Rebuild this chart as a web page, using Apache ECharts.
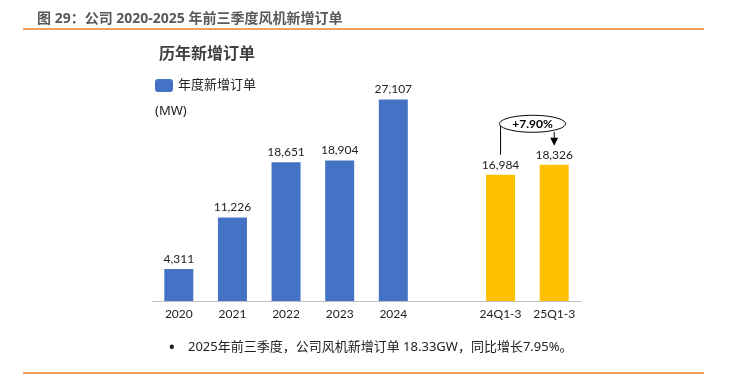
<!DOCTYPE html>
<html>
<head>
<meta charset="utf-8">
<script src="https://cdn.jsdelivr.net/npm/echarts@6/dist/echarts.min.js"></script>
<style>
  html, body { margin: 0; padding: 0; background: #fff; }
  #chart { width: 732px; height: 377px; }
</style>
</head>
<body>
<div id="chart"></div>
<script>
// 数据
const categories = ['2020', '2021', '2022', '2023', '2024', '', '24Q1-3', '25Q1-3']
const annualOrders = [4311, 11226, 18651, 18904, 27107, '-', '-', '-']
const ytdOrders = ['-', '-', '-', '-', '-', '-', 16984, 18326]
const growthText = '+7.90%'

const FONT = '"Noto Sans", "Noto Sans CJK SC", sans-serif'
const NUM_FONT = 'Lato, "Noto Sans", sans-serif'

const chart = echarts.init(document.getElementById('chart'), null, { renderer: 'canvas' })

const labelStyle = {
  show: true,
  position: 'top',
  distance: 4,
  color: '#222',
  fontSize: 12,
  fontFamily: NUM_FONT,
  formatter: p => p.value.toLocaleString('en-US')
}

const options = {
  animation: false,
  title: [
    {
      text: '图 29：公司 2020-2025 年前三季度风机新增订单',
      left: 32,
      top: 7,
      textStyle: { color: '#595959', fontSize: 14, fontWeight: 'bold', fontFamily: FONT }
    },
    {
      text: '历年新增订单',
      left: 154,
      top: 41,
      textStyle: { color: '#404040', fontSize: 16, fontWeight: 'bold', fontFamily: FONT }
    }
  ],
  legend: {
    data: ['年度新增订单'],
    left: 150,
    top: 74,
    itemWidth: 18,
    itemHeight: 13,
    itemGap: 6,
    textStyle: { color: '#222', fontSize: 13, fontFamily: FONT }
  },
  grid: {
    left: 152,
    right: 151,
    top: 78,
    bottom: 76,
    containLabel: false
  },
  xAxis: {
    type: 'category',
    data: categories,
    axisLine: { lineStyle: { color: '#bfbfbf', width: 1 } },
    axisTick: { show: false },
    axisLabel: { color: '#222', fontSize: 12, fontFamily: NUM_FONT, margin: 7, interval: 0 }
  },
  yAxis: {
    type: 'value',
    min: 0,
    max: 30000,
    show: false,
    splitLine: { show: false }
  },
  series: [
    {
      name: '年度新增订单',
      type: 'bar',
      stack: 'all',
      barWidth: 29,
      data: annualOrders,
      itemStyle: { color: '#4472C4' },
      label: labelStyle
    },
    {
      name: '前三季度',
      type: 'bar',
      stack: 'all',
      barWidth: 29,
      data: ytdOrders,
      itemStyle: { color: '#FFC000' },
      label: labelStyle
    }
  ],
  graphic: [
    { type: 'line', shape: { x1: 23, y1: 29, x2: 704, y2: 29 }, style: { stroke: '#ED7D31', lineWidth: 1.5 } },
    { type: 'line', shape: { x1: 23, y1: 373, x2: 704, y2: 373 }, style: { stroke: '#ED7D31', lineWidth: 1.5 } },
    {
      type: 'text', left: 155, top: 105,
      style: { text: '(MW)', fill: '#222', fontSize: 13, fontFamily: FONT }
    },
    {
      type: 'text', left: 169, top: 340,
      style: { text: '•', fill: '#222', fontSize: 15, fontWeight: 'bold', fontFamily: FONT }
    },
    {
      type: 'text', left: 188, top: 341,
      style: { text: '2025年前三季度，公司风机新增订单 18.33GW，同比增长7.95%。', fill: '#222', fontSize: 13, fontFamily: FONT }
    }
  ]
}

chart.setOption(options)

// 同比增长标注：根据坐标轴换算位置
const pA = chart.convertToPixel({ xAxisIndex: 0, yAxisIndex: 0 }, ['24Q1-3', ytdOrders[6]])
const pB = chart.convertToPixel({ xAxisIndex: 0, yAxisIndex: 0 }, ['25Q1-3', ytdOrders[7]])
const ey = pB[1] - 41
const ecx = pA[0] + 32
chart.setOption({
  graphic: options.graphic.concat([
    { type: 'line', shape: { x1: pA[0], y1: ey, x2: pA[0], y2: pA[1] - 20 }, style: { stroke: '#000', lineWidth: 1 } },
    { type: 'line', shape: { x1: pB[0], y1: ey + 8, x2: pB[0], y2: pB[1] - 25 }, style: { stroke: '#000', lineWidth: 1 } },
    {
      type: 'polygon',
      shape: { points: [[pB[0] - 4, pB[1] - 27], [pB[0] + 4, pB[1] - 27], [pB[0], pB[1] - 19]] },
      style: { fill: '#000' }
    },
    {
      type: 'ellipse',
      shape: { cx: ecx, cy: ey, rx: 33, ry: 8.5 },
      style: { fill: '#fff', stroke: '#000', lineWidth: 1 }
    },
    {
      type: 'text', x: ecx, y: ey, z: 10,
      style: { text: growthText, fill: '#000', fontSize: 12, fontWeight: 'bold', fontFamily: NUM_FONT, align: 'center', verticalAlign: 'middle' }
    }
  ])
}, { replaceMerge: ['graphic'] })
</script>
</body>
</html>
